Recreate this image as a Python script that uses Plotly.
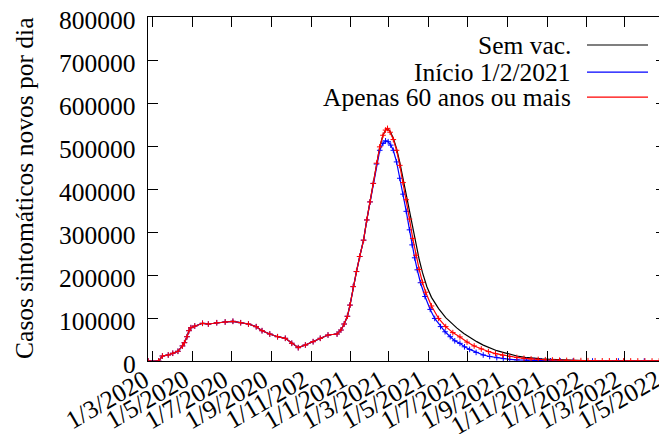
import plotly.graph_objects as go
import pandas as pd

# days since 1/3/2020, values in thousands of cases per day
days_common = [-7, 9, 15, 24, 31, 39, 46, 49, 53, 56, 59, 65, 77, 86, 99, 112, 124, 136, 148, 160,
               169, 181, 193, 205, 215, 225, 236, 248, 259, 271, 285, 291, 296, 301, 305, 310, 315,
               320, 326, 331, 336, 341]
vals_common = [0, 0, 11.6, 14, 18, 22.6, 35, 42.6, 56.5, 70.5, 77.5, 81.4, 87.7, 86, 89, 90.7, 92.3, 89, 86, 79.8,
               70.5, 62.8, 56.5, 52.8, 41.2, 31, 37.2, 44.9, 52.8, 60.5, 62.8, 72, 86, 104, 130, 173, 208,
               243, 281, 328, 370, 413]

days_semvac = [346, 351, 356, 360, 363, 367, 372, 377, 382, 387, 392, 397, 402, 407, 412, 417, 424, 431,
               442, 453, 460, 470, 481, 491, 501, 511, 522, 532, 543, 553, 563, 576, 589, 602, 615, 630,
               646, 665, 690, 720, 760, 794]
vals_semvac = [460, 498, 525, 537, 541, 534, 518, 494, 462, 425, 388, 348, 308, 270, 236, 206, 172, 148,
               122, 101, 91, 77, 64, 54, 45, 37, 29.5, 24, 19.4, 15, 11.6, 8.5, 6.2, 4.8, 3.9, 2.6,
               1.6, 1.0, 0.6, 0.35, 0.2, 0.1]

days_inicio = [346, 351, 356, 360, 364, 368, 372, 377, 382, 387, 392, 397, 401, 405, 409, 414, 421, 429,
               436, 445, 452, 460, 467, 475, 482, 490, 500, 511, 521, 532, 542, 552, 563, 578, 590, 600,
               615, 630, 650, 680, 720, 760, 794]
vals_inicio = [458, 490, 506, 512, 510, 502, 490, 463, 425, 388, 348, 305, 270, 240, 212, 182, 150, 120,
               99, 80, 68, 56.5, 47, 41, 33, 27, 20, 14, 10.5, 7.7, 5.5, 3.9, 2.7, 1.6, 1.0, 0.6,
               0.4, 0.25, 0.15, 0.08, 0.04, 0.02, 0.01]

days_60mais = [346, 351, 356, 360, 363, 367, 372, 377, 382, 387, 392, 397, 402, 407, 412, 417, 422, 431,
               442, 453, 464, 475, 486, 497, 508, 519, 530, 541, 552, 563, 574, 585, 596, 607, 618, 629,
               640, 651, 662, 673, 684, 695, 706, 717, 728, 739, 750, 761, 772, 783, 794]
vals_60mais = [460, 498, 525, 537, 541, 532, 515, 490, 455, 415, 375, 330, 285, 246, 213, 183, 160, 128,
               99, 80, 66, 56, 44, 35, 28, 22, 17, 13.5, 10.5, 8.2, 6.3, 4.8, 3.7, 2.9, 2.3, 1.8,
               1.4, 1.1, 0.9, 0.7, 0.55, 0.45, 0.35, 0.3, 0.25, 0.2, 0.16, 0.13, 0.1, 0.08, 0.06]

tick_dates = ['2020-03-01', '2020-05-01', '2020-07-01', '2020-09-01', '2020-11-01', '2021-01-01',
              '2021-03-01', '2021-05-01', '2021-07-01', '2021-09-01', '2021-11-01', '2022-01-01',
              '2022-03-01', '2022-05-01']
tick_labels = ['1/3/2020', '1/5/2020', '1/7/2020', '1/9/2020', '1/11/202', '1/1/2021',
               '1/3/2021', '1/5/2021', '1/7/2021', '1/9/2021', '1/11/2021', '1/1/2022',
               '1/3/2022', '1/5/2022']
y_ticks = [0, 100000, 200000, 300000, 400000, 500000, 600000, 700000, 800000]

names = ['Sem vac.', 'Início 1/2/2021', 'Apenas 60 anos ou mais']
colours = ['black', '#0000ff', '#ff0000']

start = pd.Timestamp('2020-03-01')


def to_dates(d):
    return start + pd.to_timedelta(d, unit='D')


series = [
    (days_common + days_semvac, vals_common + vals_semvac),
    (days_common + days_inicio, vals_common + vals_inicio),
    (days_common + days_60mais, vals_common + vals_60mais),
]

FONT = 'Liberation Serif'
tfont = dict(family=FONT, size=25.5, color='black')

fig = go.Figure()
for i, (d, v) in enumerate(series):
    y = [x * 1000 for x in v]
    if i == 0:
        fig.add_trace(go.Scatter(x=to_dates(d), y=y, mode='lines', name=names[i],
                                 line=dict(color=colours[i], width=1.2)))
    else:
        fig.add_trace(go.Scatter(x=to_dates(d), y=y, mode='lines+markers', name=names[i],
                                 line=dict(color=colours[i], width=1.2),
                                 marker=dict(symbol='cross-thin', size=4,
                                             line=dict(color=colours[i], width=1))))

# legend drawn gnuplot-style: text on the left, sample line on the right
legend_y = [0.9186, 0.840, 0.767]
for i in range(3):
    fig.add_annotation(x=0.8185, y=legend_y[i], xref='paper', yref='paper', text=names[i],
                       showarrow=False, xanchor='right', yanchor='middle', font=tfont, borderpad=0)
    fig.add_shape(type='line', xref='paper', yref='paper', x0=0.8475, x1=0.9653,
                  y0=legend_y[i], y1=legend_y[i], line=dict(color=colours[i], width=1.2))

fig.add_annotation(x=-0.2375, y=0.503, xref='paper', yref='paper', text='Casos sintomáticos novos por dia',
                   textangle=-90, showarrow=False, xanchor='center', yanchor='middle', font=tfont)

# tick labels as annotations (serif font)
for v in y_ticks:
    fig.add_annotation(x=-0.0212, y=v, xref='paper', yref='y', text=str(v), showarrow=False,
                       xanchor='right', yanchor='middle', yshift=-3, font=tfont, borderpad=0)
for d, lab in zip(tick_dates, tick_labels):
    fig.add_annotation(x=d, y=0, xref='x', yref='paper', text=lab, showarrow=False, textangle=-30,
                       xanchor='right', yanchor='top', xshift=3, yshift=-2, font=tfont, borderpad=0)

# page body has an 8px margin, so the figure is offset by 8px
fig.update_layout(
    width=659, height=426,
    margin=dict(l=140, r=1, t=9, b=73),
    plot_bgcolor='white', paper_bgcolor='white',
    showlegend=False,
    font=tfont,
    xaxis=dict(type='date', range=['2020-02-22 17:00', '2022-05-03 14:00'],
               tickvals=tick_dates, showticklabels=False,
               ticks='inside', ticklen=10, tickcolor='black', tickwidth=1,
               showline=True, linecolor='black', linewidth=1, mirror='ticks',
               showgrid=False, zeroline=False, automargin=False),
    yaxis=dict(range=[0, 800000], tickvals=y_ticks, showticklabels=False,
               ticks='inside', ticklen=10, tickcolor='black', tickwidth=1,
               showline=True, linecolor='black', linewidth=1, mirror='ticks',
               showgrid=False, zeroline=False, automargin=False),
)

fig.write_html("out.html")
